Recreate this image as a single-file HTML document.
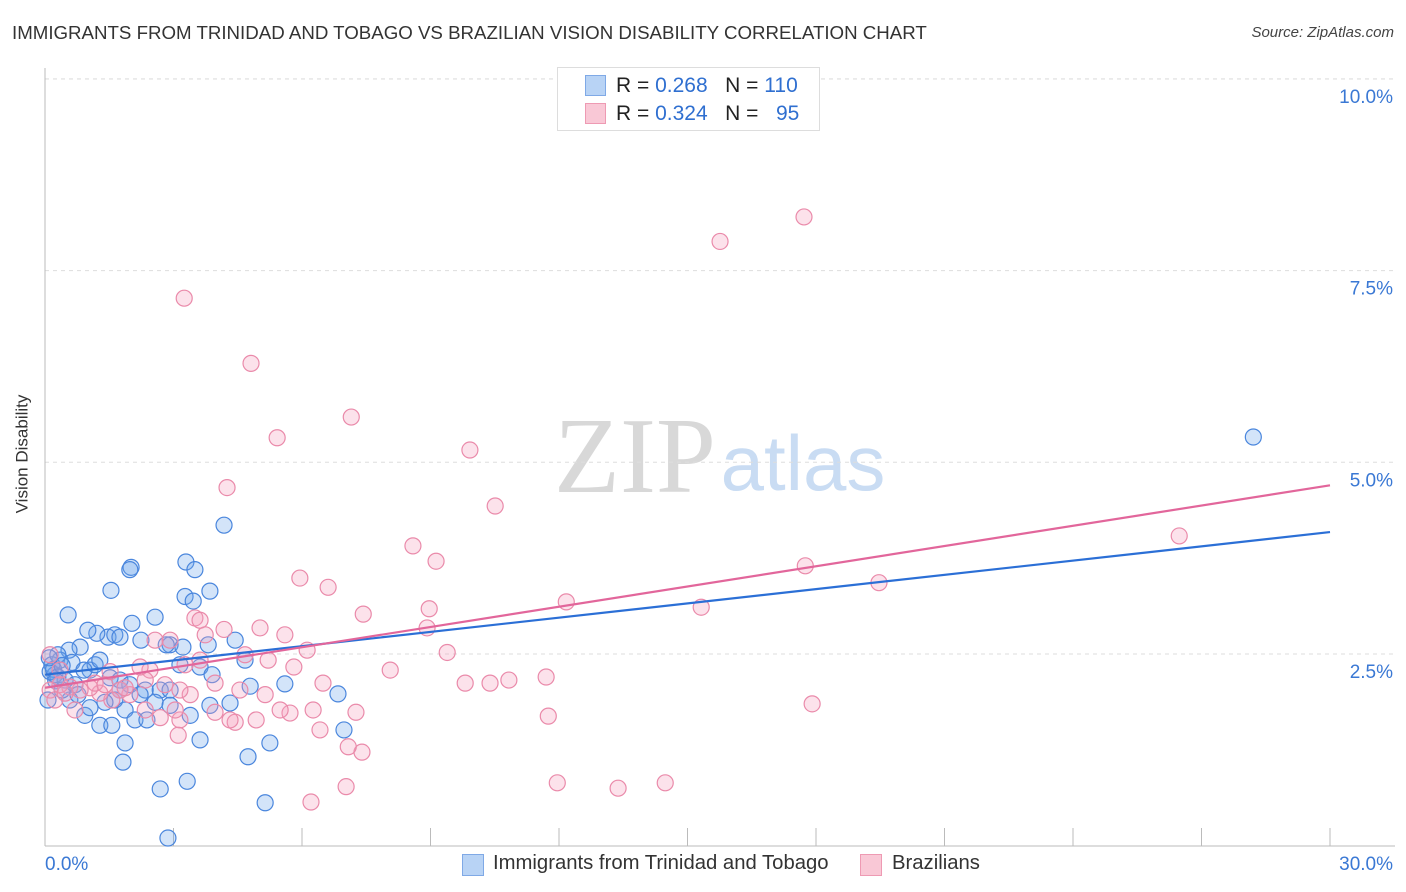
<!DOCTYPE html>
<html><head><meta charset="utf-8">
<style>
body{margin:0;background:#fff;font-family:"Liberation Sans",sans-serif;}
#wrap{position:relative;width:1406px;height:892px;overflow:hidden;}
.t{position:absolute;white-space:nowrap;}
</style></head>
<body>
<div id="wrap">
<div class="t" style="left:12px;top:22px;font-size:18.7px;color:#333;">IMMIGRANTS FROM TRINIDAD AND TOBAGO VS BRAZILIAN VISION DISABILITY CORRELATION CHART</div>
<div class="t" style="right:12px;top:24px;font-size:15px;color:#444;font-style:italic;">Source: ZipAtlas.com</div>
<div class="t" style="left:-37px;top:444px;font-size:17px;color:#333;transform:rotate(-90deg);">Vision Disability</div>
<svg id="plot" width="1406" height="892" style="position:absolute;left:0;top:0"></svg>
<div style="position:absolute;left:557px;top:67px;width:261px;height:62px;border:1px solid #ddd;background:#fff;">
 <div style="position:absolute;left:27px;top:7px;width:19px;height:19px;background:#b8d3f5;border:1px solid #7fa9e6;"></div>
 <div class="t" style="left:58px;top:6px;font-size:21px;color:#222;">R = <span style="color:#2f6fd0">0.268</span>&nbsp;&nbsp;&nbsp;N = <span style="color:#2f6fd0">110</span></div>
 <div style="position:absolute;left:27px;top:35px;width:19px;height:19px;background:#f9c8d6;border:1px solid #ee9ab3;"></div>
 <div class="t" style="left:58px;top:34px;font-size:21px;color:#222;">R = <span style="color:#2f6fd0">0.324</span>&nbsp;&nbsp;&nbsp;N = &nbsp;&nbsp;<span style="color:#2f6fd0">95</span></div>
</div>
<div style="position:absolute;left:462px;top:854px;width:20px;height:20px;background:#b8d3f5;border:1px solid #7fa9e6;"></div>
<div class="t" style="left:493px;top:852px;font-size:20.3px;color:#333;">Immigrants from Trinidad and Tobago</div>
<div style="position:absolute;left:860px;top:854px;width:20px;height:20px;background:#f9c8d6;border:1px solid #ee9ab3;"></div>
<div class="t" style="left:892px;top:852px;font-size:20.3px;color:#333;">Brazilians</div>
</div>
<script>
const xTicks=[0,30];
const yTicks=[2.5,5.0,7.5,10.0];
const blueX=[0.54,1.54,2.01,1.98,3.29,3.50,3.27,3.46,3.85,4.18,2.57,2.03,2.24,2.92,2.83,3.22,1.47,1.63,1.75,1.21,1.00,0.82,0.56,0.35,0.16,0.23,0.12,0.47,0.70,1.05,1.17,1.28,1.52,1.75,1.98,2.34,2.69,2.92,3.62,3.81,3.90,4.44,4.67,4.79,5.60,6.84,3.15,1.63,1.87,2.10,2.38,2.57,2.92,3.39,3.62,1.87,1.28,0.93,0.58,3.85,4.74,5.25,1.82,2.69,3.32,5.14,2.87,4.32,6.98,28.21,0.40,0.77,1.05,1.40,2.22,1.56,1.75,0.30,0.07,0.63,0.91,0.2,0.3,0.4,0.1,0.25];
const blueY=[3.01,3.33,3.63,3.60,3.70,3.60,3.25,3.19,3.32,4.18,2.98,2.90,2.68,2.62,2.62,2.59,2.72,2.75,2.72,2.77,2.81,2.59,2.55,2.42,2.36,2.23,2.27,2.16,2.10,2.29,2.36,2.42,2.19,2.16,2.10,2.03,2.03,2.03,2.33,2.62,2.23,2.68,2.42,2.08,2.11,1.98,2.36,1.90,1.77,1.64,1.64,1.87,1.83,1.70,1.38,1.34,1.57,1.70,1.90,1.83,1.16,1.34,1.09,0.74,0.84,0.56,0.10,1.86,1.51,5.33,2.03,1.97,1.80,1.87,1.97,1.57,2.03,2.49,1.90,2.39,2.29,2.3,2.2,2.35,2.45,2.15];
const pinkX=[3.25,4.81,5.42,7.15,9.92,10.51,8.59,9.13,5.95,6.61,7.43,8.97,8.92,12.17,15.32,15.76,17.72,26.48,17.75,19.47,4.25,3.50,3.62,4.18,5.02,5.60,6.12,3.74,4.67,5.21,5.81,6.49,8.06,9.39,9.81,10.39,10.83,11.70,11.75,17.91,11.96,13.38,14.48,6.21,7.03,7.40,7.08,6.42,7.26,6.26,5.72,5.49,4.93,4.44,4.32,3.97,3.39,3.15,3.11,2.69,2.34,1.98,1.75,1.56,1.28,1.05,0.82,0.58,0.35,0.12,0.23,0.47,0.70,1.17,1.40,1.87,2.45,2.80,3.15,3.97,4.55,2.92,2.57,3.62,5.14,3.27,2.34,3.04,2.22,1.52,0.35,0.12];
const pinkY=[7.14,6.29,5.32,5.59,5.16,4.43,3.91,3.71,3.49,3.37,3.02,3.09,2.84,3.18,3.11,7.88,8.20,4.04,3.65,3.43,4.67,2.97,2.94,2.82,2.84,2.75,2.55,2.75,2.49,2.42,2.33,2.12,2.29,2.52,2.12,2.12,2.16,2.20,1.69,1.85,0.82,0.75,0.82,0.57,0.77,1.22,1.29,1.51,1.74,1.77,1.73,1.77,1.64,1.61,1.64,1.74,1.97,1.64,1.44,1.67,1.77,1.97,2.03,1.90,1.99,2.06,2.03,2.07,2.10,2.03,1.90,1.99,1.77,2.12,2.10,2.06,2.29,2.10,2.03,2.12,2.03,2.68,2.68,2.42,1.97,2.36,2.16,1.77,2.33,2.27,2.29,2.49];
const blueTrend=[2.23,4.09];
const pinkTrend=[2.06,4.70];

const NS="http://www.w3.org/2000/svg";
const svg=document.getElementById('plot');
const X0=45,X1=1330,Y0=845.7;
const sx=v=>X0+(v-0)/(30-0)*(X1-X0);
const sy=v=>Y0-v*76.68;
function mk(tag,attrs,parent){const e=document.createElementNS(NS,tag);for(const k in attrs)e.setAttribute(k,attrs[k]);(parent||svg).appendChild(e);return e;}

let w1=mk('text',{x:635,y:492,'font-size':108,'font-family':'Liberation Serif,serif',fill:'#d8d8d8','text-anchor':'middle'});
w1.textContent='ZIP';


let w2=mk('text',{x:803,y:490,'font-size':78,'font-family':'Liberation Sans,sans-serif',fill:'#c9dcf3','text-anchor':'middle'});
w2.textContent='atlas';



mk('line',{x1:X0,x2:1395,y1:79,y2:79,stroke:'#ddd','stroke-dasharray':'4,4'});
yTicks.forEach(t=>{
 const l=mk('line',{x1:X0,x2:1395,y1:sy(t),y2:sy(t),stroke:'#ddd','stroke-dasharray':'4,4'});
 
 
 const tx=mk('text',{x:1393,y:sy(t)+24,'font-size':19,fill:'#3a78d4','text-anchor':'end','font-family':'Liberation Sans,sans-serif'});
 tx.textContent=t.toFixed(1)+'%';
 
 
});
mk('line',{x1:X0,x2:X0,y1:68,y2:846,stroke:'#bbb'});
mk('line',{x1:X0,x2:1395,y1:846,y2:846,stroke:'#bbb'});
for(let i=1;i<=10;i++){const px=sx(i*3);mk('line',{x1:px,x2:px,y1:828,y2:846,stroke:'#bbb'});}
xTicks.forEach((t,i)=>{
 const tx=mk('text',{x:i==0?45:1393,y:870,'font-size':19,fill:'#3a78d4','text-anchor':i==0?'start':'end','font-family':'Liberation Sans,sans-serif'});
 tx.textContent=t.toFixed(1)+'%';
 
 
});
blueX.forEach((v,i)=>{
 const c=mk('circle',{cx:sx(v),cy:sy(blueY[i]),r:8,fill:'rgba(110,165,235,0.3)',stroke:'#4a86dd','stroke-width':1.2});
 
 
});
pinkX.forEach((v,i)=>{
 const c=mk('circle',{cx:sx(v),cy:sy(pinkY[i]),r:8,fill:'rgba(245,160,190,0.3)',stroke:'#ea8aaa','stroke-width':1.2});
 
 
});
const bl=mk('line',{x1:sx(0),x2:sx(30),y1:sy(blueTrend[0]),y2:sy(blueTrend[1]),stroke:'#2b6fd6','stroke-width':2.2});


const pl=mk('line',{x1:sx(0),x2:sx(30),y1:sy(pinkTrend[0]),y2:sy(pinkTrend[1]),stroke:'#e2669b','stroke-width':2.2});


</script>
</body></html>
